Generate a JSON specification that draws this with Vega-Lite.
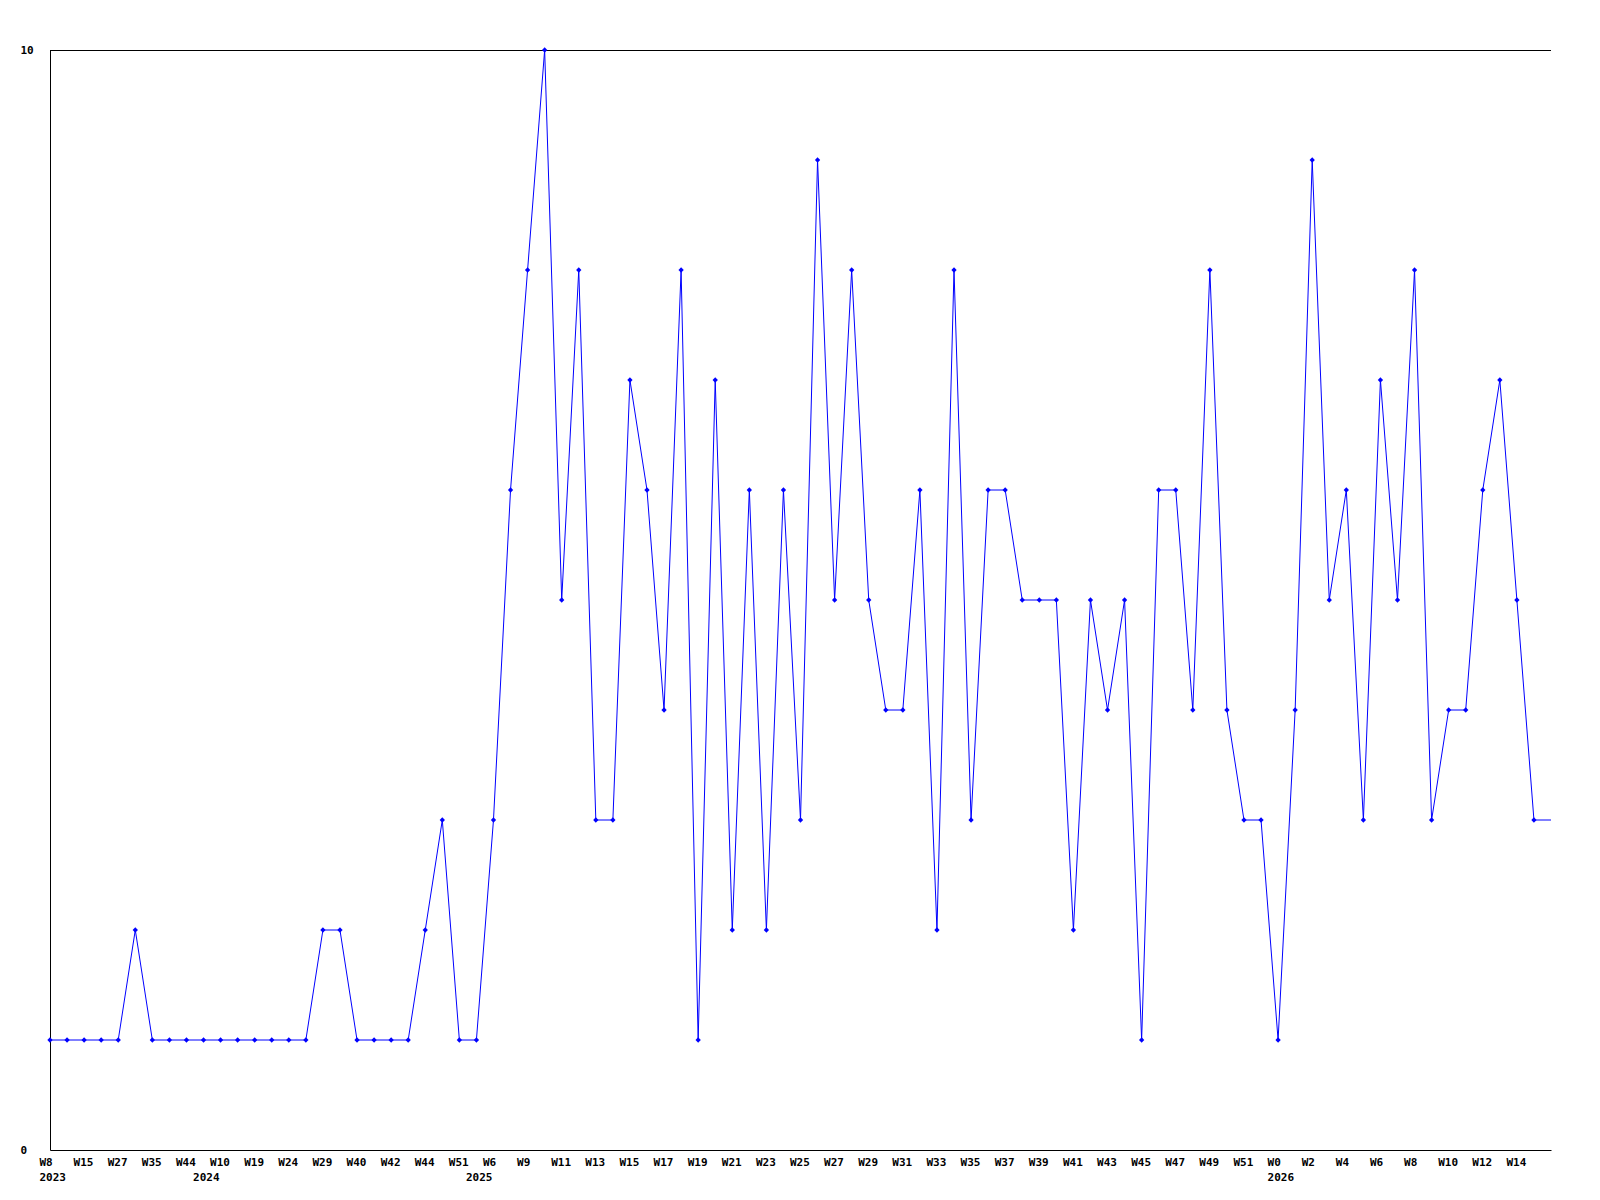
{
  "$schema": "https://vega.github.io/schema/vega-lite/v6.json",
  "width": 1501,
  "height": 1100,
  "autosize": {"type": "none"},
  "padding": {"left": 50, "top": 50, "right": 49, "bottom": 50},
  "background": "white",
  "config": {
    "view": {"stroke": null},
    "font": "DejaVu Sans Mono",
    "axis": {
      "labelFont": "DejaVu Sans Mono",
      "labelFontWeight": "bold",
      "labelFontSize": 11,
      "labelColor": "black",
      "domainColor": "black",
      "domainWidth": 1,
      "grid": false,
      "ticks": false,
      "tickSize": 0,
      "title": null
    }
  },
  "data": {
    "values": [
      {"week": "00|W8|2023", "value": 1},
      {"week": "01|", "value": 1},
      {"week": "02|W15", "value": 1},
      {"week": "03|", "value": 1},
      {"week": "04|W27", "value": 1},
      {"week": "05|", "value": 2},
      {"week": "06|W35", "value": 1},
      {"week": "07|", "value": 1},
      {"week": "08|W44", "value": 1},
      {"week": "09||2024", "value": 1},
      {"week": "10|W10", "value": 1},
      {"week": "11|", "value": 1},
      {"week": "12|W19", "value": 1},
      {"week": "13|", "value": 1},
      {"week": "14|W24", "value": 1},
      {"week": "15|", "value": 1},
      {"week": "16|W29", "value": 2},
      {"week": "17|", "value": 2},
      {"week": "18|W40", "value": 1},
      {"week": "19|", "value": 1},
      {"week": "20|W42", "value": 1},
      {"week": "21|", "value": 1},
      {"week": "22|W44", "value": 2},
      {"week": "23|", "value": 3},
      {"week": "24|W51", "value": 1},
      {"week": "25||2025", "value": 1},
      {"week": "26|W6", "value": 3},
      {"week": "27|", "value": 6},
      {"week": "28|W9", "value": 8},
      {"week": "29|", "value": 10},
      {"week": "30|W11", "value": 5},
      {"week": "31|", "value": 8},
      {"week": "32|W13", "value": 3},
      {"week": "33|", "value": 3},
      {"week": "34|W15", "value": 7},
      {"week": "35|", "value": 6},
      {"week": "36|W17", "value": 4},
      {"week": "37|", "value": 8},
      {"week": "38|W19", "value": 1},
      {"week": "39|", "value": 7},
      {"week": "40|W21", "value": 2},
      {"week": "41|", "value": 6},
      {"week": "42|W23", "value": 2},
      {"week": "43|", "value": 6},
      {"week": "44|W25", "value": 3},
      {"week": "45|", "value": 9},
      {"week": "46|W27", "value": 5},
      {"week": "47|", "value": 8},
      {"week": "48|W29", "value": 5},
      {"week": "49|", "value": 4},
      {"week": "50|W31", "value": 4},
      {"week": "51|", "value": 6},
      {"week": "52|W33", "value": 2},
      {"week": "53|", "value": 8},
      {"week": "54|W35", "value": 3},
      {"week": "55|", "value": 6},
      {"week": "56|W37", "value": 6},
      {"week": "57|", "value": 5},
      {"week": "58|W39", "value": 5},
      {"week": "59|", "value": 5},
      {"week": "60|W41", "value": 2},
      {"week": "61|", "value": 5},
      {"week": "62|W43", "value": 4},
      {"week": "63|", "value": 5},
      {"week": "64|W45", "value": 1},
      {"week": "65|", "value": 6},
      {"week": "66|W47", "value": 6},
      {"week": "67|", "value": 4},
      {"week": "68|W49", "value": 8},
      {"week": "69|", "value": 4},
      {"week": "70|W51", "value": 3},
      {"week": "71|", "value": 3},
      {"week": "72|W0|2026", "value": 1},
      {"week": "73|", "value": 4},
      {"week": "74|W2", "value": 9},
      {"week": "75|", "value": 5},
      {"week": "76|W4", "value": 6},
      {"week": "77|", "value": 3},
      {"week": "78|W6", "value": 7},
      {"week": "79|", "value": 5},
      {"week": "80|W8", "value": 8},
      {"week": "81|", "value": 3},
      {"week": "82|W10", "value": 4},
      {"week": "83|", "value": 4},
      {"week": "84|W12", "value": 6},
      {"week": "85|", "value": 7},
      {"week": "86|W14", "value": 5},
      {"week": "87|", "value": 3},
      {"week": "88|", "value": 3}
    ]
  },
  "encoding": {
    "x": {
      "field": "week",
      "type": "ordinal",
      "sort": null,
      "scale": {"type": "point", "padding": 0},
      "axis": {
        "labelAngle": 0,
        "labelAlign": "left",
        "labelBaseline": "top",
        "labelOffset": -11,
        "labelPadding": 6,
        "labelLineHeight": 15,
        "labelOverlap": false,
        "labelBound": false,
        "labelFlush": false,
        "labelExpr": "split(datum.value, '|')[2] ? [split(datum.value, '|')[1], split(datum.value, '|')[2]] : split(datum.value, '|')[1]"
      }
    },
    "y": {
      "field": "value",
      "type": "quantitative",
      "scale": {"domain": [0, 10], "nice": false, "zero": true},
      "axis": {
        "values": [0, 10],
        "labelAlign": "left",
        "labelBaseline": "middle",
        "labelPadding": 30,
        "labelFlush": false,
        "labelBound": false
      }
    }
  },
  "layer": [
    {
      "mark": {"type": "rule", "color": "black", "strokeWidth": 1, "yOffset": 0.5},
      "encoding": {"y": {"datum": 10}, "x": null}
    },
    {
      "mark": {"type": "line", "color": "#0000ff", "strokeWidth": 1, "interpolate": "linear"}
    },
    {
      "transform": [{"filter": "datum.week != '88|'"}],
      "mark": {"type": "point", "shape": "diamond", "filled": true, "color": "#0000ff", "size": 28, "opacity": 1}
    }
  ]
}
